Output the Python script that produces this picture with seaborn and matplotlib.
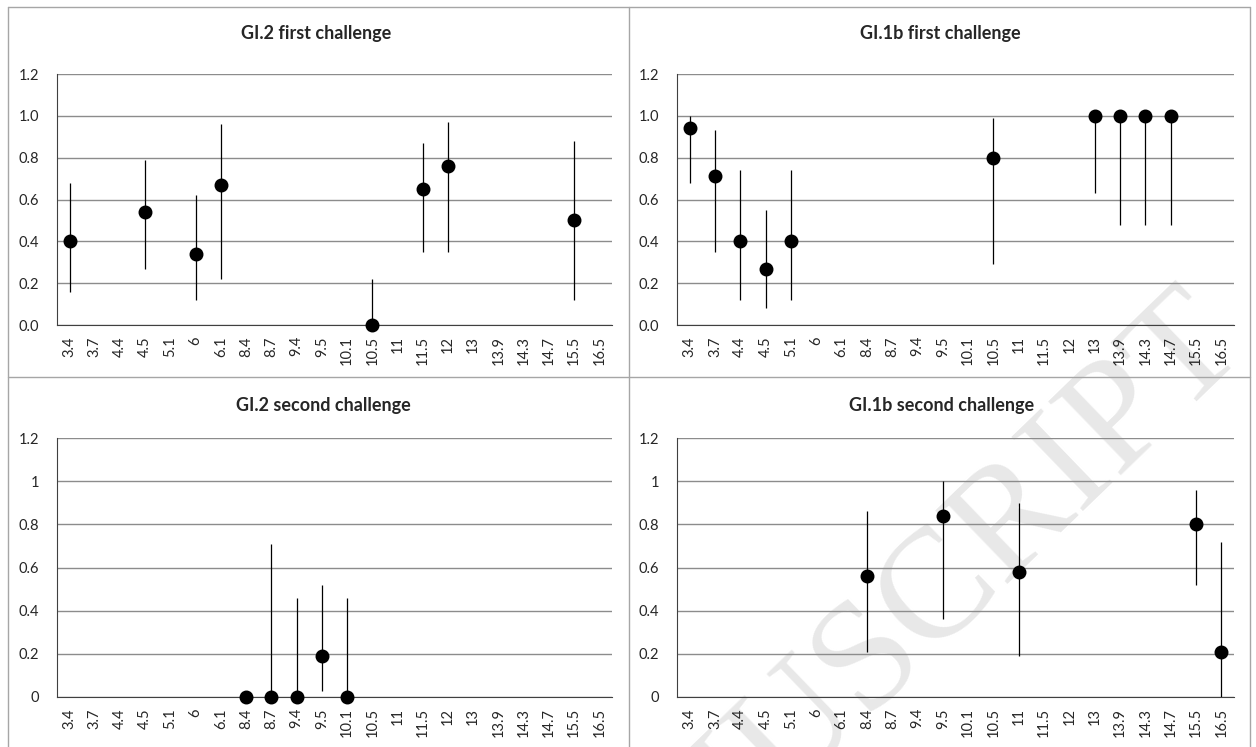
import matplotlib
matplotlib.use('Agg')
import matplotlib.pyplot as plt
from matplotlib.lines import Line2D
import seaborn as sns
import pandas as pd

categories = ['3.4', '3.7', '4.4', '4.5', '5.1', '6', '6.1', '8.4', '8.7', '9.4', '9.5',
              '10.1', '10.5', '11', '11.5', '12', '13', '13.9', '14.3', '14.7', '15.5', '16.5']

yticks = [0, 0.2, 0.4, 0.6, 0.8, 1.0, 1.2]
ylabels_first = ['0.0', '0.2', '0.4', '0.6', '0.8', '1.0', '1.2']
ylabels_second = ['0', '0.2', '0.4', '0.6', '0.8', '1', '1.2']

# GI.2 first challenge
gi2_first_cat = ['3.4', '4.5', '6', '6.1', '10.5', '11.5', '12', '15.5']
gi2_first_val = [0.40, 0.54, 0.34, 0.67, 0.0, 0.65, 0.76, 0.50]
gi2_first_lo = [0.16, 0.27, 0.12, 0.22, 0.0, 0.35, 0.35, 0.12]
gi2_first_hi = [0.68, 0.79, 0.62, 0.96, 0.22, 0.87, 0.97, 0.88]

# GI.1b first challenge
gi1b_first_cat = ['3.4', '3.7', '4.4', '4.5', '5.1', '10.5', '13', '13.9', '14.3', '14.7']
gi1b_first_val = [0.94, 0.71, 0.40, 0.27, 0.40, 0.80, 1.0, 1.0, 1.0, 1.0]
gi1b_first_lo = [0.68, 0.35, 0.12, 0.08, 0.12, 0.29, 0.63, 0.48, 0.48, 0.48]
gi1b_first_hi = [1.0, 0.93, 0.74, 0.55, 0.74, 0.99, 1.0, 1.0, 1.0, 1.0]

# GI.2 second challenge
gi2_second_cat = ['8.4', '8.7', '9.4', '9.5', '10.1']
gi2_second_val = [0.0, 0.0, 0.0, 0.19, 0.0]
gi2_second_lo = [0.0, 0.0, 0.0, 0.03, 0.0]
gi2_second_hi = [0.0, 0.71, 0.46, 0.52, 0.46]

# GI.1b second challenge
gi1b_second_cat = ['8.4', '9.5', '11', '15.5', '16.5']
gi1b_second_val = [0.56, 0.84, 0.58, 0.80, 0.21]
gi1b_second_lo = [0.21, 0.36, 0.19, 0.52, 0.0]
gi1b_second_hi = [0.86, 1.0, 0.90, 0.96, 0.72]

sns.set_style('white')
plt.rcParams['font.family'] = ['Lato', 'DejaVu Sans']

W, H = 1256, 747
fig = plt.figure(figsize=(W / 100, H / 100), dpi=100)


def px_axes(left, top, right, bottom):
    return fig.add_axes([left / W, 1 - bottom / H, (right - left) / W, (bottom - top) / H])


def panel(ax, cats, vals, lo, hi, ylabels):
    df = pd.DataFrame({'cat': cats, 'val': vals, 'lo': lo, 'hi': hi})
    xpos = [categories.index(c) for c in df['cat']]
    ax.vlines(xpos, df['lo'], df['hi'], color='black', lw=0.9, zorder=3)
    sns.pointplot(data=df, x='cat', y='val', order=categories, linestyle='none',
                  color='black', markers='o', errorbar=None, markersize=8, ax=ax)
    for ln in ax.lines:
        ln.set_clip_on(False)
        ln.set_zorder(4)
    ax.set_facecolor('none')
    ax.set_xlim(-0.5, len(categories) - 0.5)
    ax.set_ylim(0, 1.2)
    ax.set_xlabel('')
    ax.set_ylabel('')
    ax.set_yticks(yticks)
    ax.set_yticklabels(ylabels, fontsize=10.5)
    ax.set_xticks(range(len(categories)))
    ax.set_xticklabels(categories, rotation=90, fontsize=10.5)
    ax.set_xticks([i - 0.5 for i in range(len(categories) + 1)], minor=True)
    ax.tick_params(axis='x', which='major', length=0, pad=8)
    ax.tick_params(axis='x', which='minor', length=5, width=1, color='#404040', direction='out')
    ax.tick_params(axis='y', length=5, width=1, color='#404040', direction='out', pad=8)
    ax.yaxis.grid(True, color='#8c8c8c', lw=1)
    ax.xaxis.grid(False)
    ax.set_axisbelow(True)
    for s in ['top', 'right']:
        ax.spines[s].set_visible(False)
    ax.spines['left'].set_color('#404040')
    ax.spines['bottom'].set_color('#404040')


ax1 = px_axes(57, 74, 612, 325)
ax2 = px_axes(677, 74, 1234, 325)
ax3 = px_axes(57, 438, 612, 697)
ax4 = px_axes(677, 438, 1234, 697)

panel(ax1, gi2_first_cat, gi2_first_val, gi2_first_lo, gi2_first_hi, ylabels_first)
panel(ax2, gi1b_first_cat, gi1b_first_val, gi1b_first_lo, gi1b_first_hi, ylabels_first)
panel(ax3, gi2_second_cat, gi2_second_val, gi2_second_lo, gi2_second_hi, ylabels_second)
panel(ax4, gi1b_second_cat, gi1b_second_val, gi1b_second_lo, gi1b_second_hi, ylabels_second)

titles = [('GI.2 first challenge', 316, 34), ('GI.1b first challenge', 940, 34),
          ('GI.2 second challenge', 323, 405), ('GI.1b second challenge', 942, 405)]
for t, x, y in titles:
    fig.text(x / W, 1 - y / H, t, ha='center', va='center', fontsize=13, fontweight='bold')

# panel borders
bc = '#a6a6a6'
for (x0, y0, x1, y1) in [(8, 7, 1250, 7), (8, 7, 8, 747), (1250, 7, 1250, 747),
                         (629, 7, 629, 747), (8, 377, 1250, 377)]:
    fig.add_artist(Line2D([x0 / W, x1 / W], [1 - y0 / H, 1 - y1 / H], color=bc, lw=1))

# faint watermark behind the plots
fig.text(858 / W, 1 - 672 / H, 'MANUSCRIPT', rotation=44, rotation_mode='anchor',
         ha='center', va='center', fontsize=113, family='Liberation Serif',
         color='#e8e8e8', zorder=-1)

fig.savefig('out.png', dpi=100)
